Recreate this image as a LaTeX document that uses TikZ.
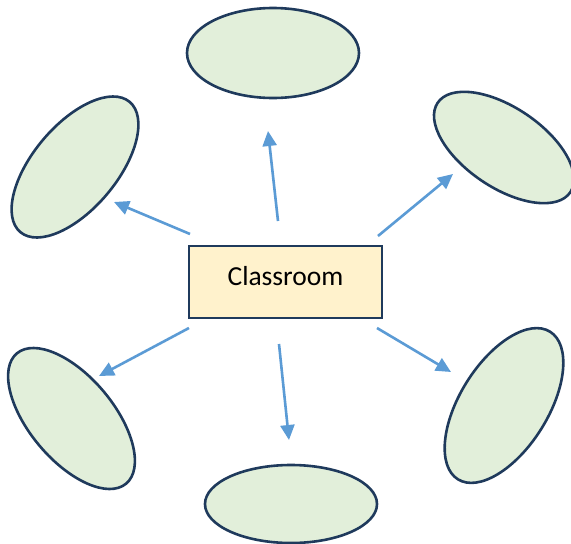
\documentclass[tikz,border=0pt]{standalone}
\usepackage{fontspec}
\setmainfont{Carlito}
\usetikzlibrary{arrows.meta, shapes.geometric}
\definecolor{cnavy}{HTML}{1F3A5C}
\definecolor{cgreen}{HTML}{E2EFDA}
\definecolor{cyellow}{HTML}{FFF2CC}
\definecolor{cblue}{HTML}{5B9BD5}
\tikzset{
  every picture/.style={x=1pt, y=-1pt},
  box/.style={draw=cnavy, fill=cyellow, line width=2.6pt, inner sep=0pt, minimum width=193pt, minimum height=72pt, font=\fontsize{27.5}{32}\selectfont},
  bubble/.style={ellipse, draw=cnavy, fill=cgreen, line width=2.6pt, inner sep=0pt, minimum width=170pt, minimum height=84pt},
  arrow/.style={-{Triangle[length=15pt, width=14pt]}, draw=cblue, line width=2.6pt},
}
\begin{document}
\begin{tikzpicture}
  \useasboundingbox (0,0) rectangle (571,544);
  \node[box] (room) at (285.5,282) {\raisebox{12pt}{Classroom}};
  \node[bubble, minimum width=172pt, minimum height=90pt] (top) at (273,53) {};
  \node[bubble, minimum width=172pt, minimum height=78pt] (bottom) at (291,504) {};
  \node[bubble, rotate=50] (upleft) at (75,167) {};
  \node[bubble, rotate=-50] (lowleft) at (71.5,418.5) {};
  \node[bubble, minimum width=160pt, minimum height=80pt, rotate=-34] (upright) at (504,147.5) {};
  \node[bubble, minimum width=174pt, minimum height=88pt, rotate=58] (lowright) at (504,405.5) {};
  % arrow ends
  \coordinate (t-up) at (278,221);     \coordinate (h-up) at (268,131);
  \coordinate (t-ul) at (190,234);     \coordinate (h-ul) at (114,202);
  \coordinate (t-ur) at (378,236);     \coordinate (h-ur) at (453,174);
  \coordinate (t-ll) at (189,328);     \coordinate (h-ll) at (99,376);
  \coordinate (t-dn) at (279,344);     \coordinate (h-dn) at (289,440);
  \coordinate (t-lr) at (377,328);     \coordinate (h-lr) at (451,372);
  \foreach \k in {up, ul, ur, ll, dn, lr}
    \draw[arrow] (t-\k) -- (h-\k);
\end{tikzpicture}
\end{document}
